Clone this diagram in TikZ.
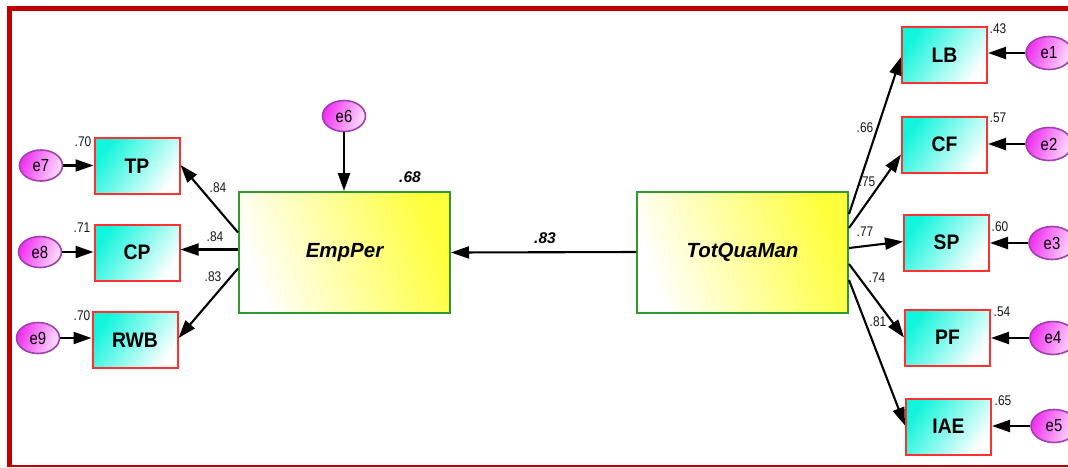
\documentclass[tikz,border=0pt]{standalone}
\usepackage{fontspec}
\setmainfont{Liberation Sans}
\newfontfamily\coeffont[FakeStretch=0.85]{Liberation Sans}
\newfontfamily\boxfont[FakeStretch=0.92]{Liberation Sans}
\usetikzlibrary{arrows.meta,shapes.geometric}
\definecolor{framered}{HTML}{C00000}
\definecolor{obsred}{HTML}{FF3030}
\definecolor{obscyan}{HTML}{10F5DC}
\definecolor{latgreen}{HTML}{2E9A2E}
\definecolor{latyellow}{HTML}{FFFF3A}
\definecolor{errpurple}{HTML}{A040B0}
\definecolor{errmag}{HTML}{F030F0}
\tikzset{
  x=1pt, y=-1pt,
  obs/.style={draw=obsred, line width=2pt, minimum width=85pt, minimum height=56pt,
    left color=obscyan, right color=white, shading angle=55,
    font=\boxfont\bfseries\fontsize{21}{23}\selectfont, inner sep=0pt},
  lat/.style={draw=latgreen, line width=2pt, minimum width=211pt, minimum height=121pt,
    left color=white, right color=latyellow, shading angle=110,
    font=\bfseries\itshape\fontsize{20.5}{23}\selectfont, inner sep=0pt},
  err/.style={ellipse, draw=errpurple, line width=1.6pt, minimum width=43pt, minimum height=31pt,
    left color=errmag, right color=white!85!errmag, shading angle=70,
    font=\coeffont\fontsize{17.5}{19}\selectfont, inner sep=0pt},
  errr/.style={err, minimum width=46pt, minimum height=33pt},
  coef/.style={font=\coeffont\fontsize{14}{16}\selectfont, inner sep=0pt, text=black!90},
  bcoef/.style={font=\bfseries\itshape\fontsize{15.5}{17}\selectfont, inner sep=0pt},
  path/.style={line width=2.1pt, -{Triangle[length=18pt,width=12pt]}},
}
\begin{document}
\begin{tikzpicture}
\useasboundingbox (0,0) rectangle (1068,467);
\clip (0,0) rectangle (1068,467);
\fill[white] (0,0) rectangle (1068,467);
% frame
\draw[framered, line width=5pt] (9.5,467) -- (9.5,8.5) -- (1068,8.5);
\draw[framered, line width=2pt] (7,466) -- (1068,466);

% latent
\node[lat] (EmpPer) at (344.5,252.5) {EmpPer};
\node[lat] (TotQuaMan) at (742.5,252) {TotQuaMan};

% left observed
\node[obs] (TP) at (137,166) {TP};
\node[obs] (CP) at (137,252.5) {CP};
\node[obs] (RWB) at (135,340) {RWB};

% right observed
\node[obs] (LB) at (944.5,55) {LB};
\node[obs] (CF) at (944.5,144.5) {CF};
\node[obs] (SP) at (946.5,242.5) {SP};
\node[obs] (PF) at (947.5,337.5) {PF};
\node[obs] (IAE) at (948.5,426.5) {IAE};

% errors
\node[err] (e6) at (344,116) {e6};
\node[err] (e7) at (41,165.5) {e7};
\node[err] (e8) at (40,252) {e8};
\node[err] (e9) at (38,338) {e9};
\node[errr] (e1) at (1049,53) {e1};
\node[errr] (e2) at (1049,144) {e2};
\node[errr] (e3) at (1052,243) {e3};
\node[errr] (e4) at (1053,338) {e4};
\node[errr] (e5) at (1054,426) {e5};

% structural path
\draw[path] (TotQuaMan.west) -- (EmpPer.east);
\draw[path] (e6.south) -- (e6.south |- EmpPer.north);

% EmpPer loadings
\draw[path] ([yshift=20pt]EmpPer.west) -- ([yshift=1pt]TP.east);
\draw[path] ([yshift=3pt]EmpPer.west) -- ([yshift=3pt]CP.east);
\draw[path] ([yshift=-16pt]EmpPer.west) -- ([yshift=2pt]RWB.east);

% TotQuaMan loadings
\draw[path] ([yshift=38pt]TotQuaMan.east) -- ([yshift=-2pt]LB.west);
\draw[path] ([yshift=24pt]TotQuaMan.east) -- ([yshift=-10pt]CF.west);
\draw[path] ([yshift=4pt]TotQuaMan.east) -- ([yshift=1pt]SP.west);
\draw[path] ([yshift=-12pt]TotQuaMan.east) -- (PF.west);
\draw[path] ([yshift=-28pt]TotQuaMan.east) -- ([yshift=1pt]IAE.west);

% error arrows
\draw[path] (e7.east) -- (e7.east -| TP.west);
\draw[path] (e8.east) -- (e8.east -| CP.west);
\draw[path] (e9.east) -- (e9.east -| RWB.west);
\draw[path] (e1.west) -- (e1.west -| LB.east);
\draw[path] (e2.west) -- (e2.west -| CF.east);
\draw[path] (e3.west) -- (e3.west -| SP.east);
\draw[path] (e4.west) -- (e4.west -| PF.east);
\draw[path] (e5.west) -- (e5.west -| IAE.east);

% bold estimates
\node[bcoef] (r68) at (410,177) {.68};
\node[bcoef] (b83) at (545,238) {.83};

% left coefficients
\node[coef] (cTP) at (218,188) {.84};
\node[coef] (cCP) at (215,237) {.84};
\node[coef] (cRWB) at (213,277) {.83};
\node[coef] (rTP) at (83,142) {.70};
\node[coef] (rCP) at (82,228) {.71};
\node[coef] (rRWB) at (82,316) {.70};

% right coefficients
\node[coef] (cLB) at (865,128) {.66};
\node[coef] (cCF) at (867,182) {.75};
\node[coef] (cSP) at (865,232) {.77};
\node[coef] (cPF) at (877,278) {.74};
\node[coef] (cIAE) at (878,322) {.81};
\node[coef] (rLB) at (998,29) {.43};
\node[coef] (rCF) at (998,118) {.57};
\node[coef] (rSP) at (1000,227) {.60};
\node[coef] (rPF) at (1002,312) {.54};
\node[coef] (rIAE) at (1003,401) {.65};
\end{tikzpicture}
\end{document}
